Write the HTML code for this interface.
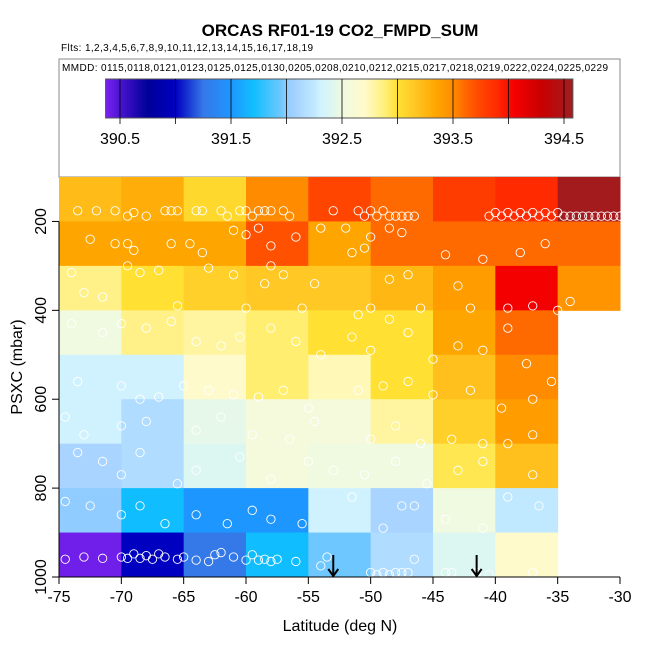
<!DOCTYPE html>
<html><head><meta charset="utf-8"><style>
body{margin:0;background:#fff}
svg{display:block;font-family:"Liberation Sans",Arial,sans-serif}
</style></head><body>
<svg id="chart" width="650" height="650" viewBox="0 0 650 650" xmlns="http://www.w3.org/2000/svg">
<text x="340" y="36" text-anchor="middle" font-size="17" font-weight="bold">ORCAS RF01-19 CO2_FMPD_SUM</text>
<text x="61" y="51" font-size="10" textLength="252">Flts: 1,2,3,4,5,6,7,8,9,10,11,12,13,14,15,16,17,18,19</text>
<rect x="59" y="59" width="561" height="118" fill="none" stroke="#888" stroke-width="1"/>
<text x="62" y="71" font-size="10" textLength="546">MMDD: 0115,0118,0121,0123,0125,0125,0130,0205,0208,0210,0212,0215,0217,0218,0219,0222,0224,0225,0229</text>
<defs><linearGradient id="cbgrad" x1="0" x2="1" y1="0" y2="0"></linearGradient></defs>
<g id="colorbar"></g>
<g id="cells"></g>
<g id="points"></g>
<g id="axes"></g>
<text x="340" y="631" text-anchor="middle" font-size="16">Latitude (deg N)</text>
<text transform="translate(22,367) rotate(-90)" text-anchor="middle" font-size="16">PSXC (mbar)</text>
</svg>
<script>
const latEdges = [-75,-70,-65,-60,-55,-50,-45,-40,-35,-30];
const presEdges = [100,200,300,400,500,600,700,800,900,1000];
const row100 = [393.22,393.3,393.05,393.5,393.75,393.6,393.8,393.9,394.55];
const row200 = [393.35,393.35,393.35,393.7,393.35,393.6,393.6,393.6,393.6];
const row300 = [392.85,393.0,393.1,393.15,393.15,393.25,393.4,394.05,393.45];
const row400 = [392.5,392.85,392.8,392.9,393.0,393.0,393.35,393.6,null];
const row500 = [392.3,392.3,392.7,392.9,392.75,393.0,393.2,393.5,null];
const row600 = [392.3,392.15,392.45,392.55,392.55,392.8,393.1,393.4,null];
const row700 = [392.1,392.15,392.4,392.55,392.5,392.5,392.95,393.2,null];
const row800 = [392.0,391.7,391.5,391.5,392.3,392.1,392.5,392.25,null];
const row900 = [390.4,391.0,391.25,391.7,391.95,392.15,392.4,392.7,null];
const gridValues = [row100,row200,row300,row400,row500,row600,row700,row800,row900];
const xTicks = [-75,-70,-65,-60,-55,-50,-45,-40,-35,-30];
const yTicks = [200,400,600,800,1000];
const cbTicks = [390.5,391.5,392.5,393.5,394.5];
const cbMinorTicks = [390.5,391,391.5,392,392.5,393,393.5,394,394.5];
const arrowLats = [-53,-41.5];
const ptLat = [-73.5,-72,-70.5,-69.5,-69,-68,-66.5,-66,-65.5,-64,-63.5,-62,-61.5,-60.5,-60,-59.5,-59,-58.5,-58,-57,-56.5,-53,-51,-50.5,-50,-49.5,-49,-48.5,-48,-47.5,-47,-46.5,-40.5,-40,-39.5,-39,-38.5,-38,-37.5,-37,-36.5,-36,-35.5,-35,-34.5,-34,-33.5,-33,-32.5,-32,-31.5,-31,-30.5,-30,
-72.5,-70.5,-69.5,-69,-66,-64.5,-63.5,-61,-60,-59,-58,-56,-54,-52,-51.5,-50.5,-50,-48.5,-47.5,-44,-41,-38,-36,
-74,-73,-71.5,-69.5,-68.5,-67,-65.5,-63,-61,-60,-58.5,-58,-57,-55.5,-54.5,-51,-50,-48.5,-47,-46,-43,-42,-39,-37,-35,-34,
-74,-71.5,-70,-68,-66,-64,-62,-60.5,-58,-56,-54,-51.5,-50,-48.5,-47,-45,-43,-41,-39,-37.5,
-73.5,-70,-68.5,-67,-65,-63,-61,-59,-57,-55,-51,-49,-47,-45,-42,-39.5,-37,-35.5,
-74.5,-73,-70,-68,-64,-62,-59.5,-56.5,-54.5,-50,-48,-46,-43.5,-41,-39,-37,
-73.5,-71.5,-70,-68.5,-65.5,-64,-60.5,-58,-55,-53,-50.5,-48,-45.5,-43,-41,-37,
-74.5,-72.5,-70,-68.5,-66.5,-64,-61.5,-59.5,-58,-55.5,-51.5,-49,-47.5,-46.5,-44,-41,-39,-36.5,
-74.5,-73,-71.5,-70,-69.5,-69,-68.5,-68,-67.5,-67,-66.5,-65.5,-65,-64,-63,-62.5,-62,-61,-60,-59.5,-59,-58.5,-58,-57.5,-56,-54,-53.5,-50,-49.5,-49,-48.5,-48,-47.5,-47,-46.5,-44,-43.5,-41.5,-40.5,-37];
const ptPres = [176,176,176,188,180,188,176,176,176,176,176,176,188,176,176,188,176,176,176,176,188,176,176,188,176,188,176,188,188,188,188,188,188,180,188,180,188,180,188,180,188,180,188,180,188,188,188,188,188,188,188,188,188,188,
240,250,250,265,250,250,270,220,230,215,255,235,215,215,270,260,235,215,225,275,285,270,250,
315,360,370,300,315,310,390,305,320,395,340,300,320,395,340,410,395,330,320,395,345,395,395,390,400,380,
430,450,430,440,425,470,480,460,440,470,500,460,490,420,450,510,480,490,440,520,
560,570,600,595,570,580,590,595,580,620,580,570,560,590,580,620,600,560,
640,680,660,650,670,640,680,690,650,690,660,700,690,700,700,680,
720,740,770,720,790,760,730,780,740,760,770,740,790,760,740,770,
830,840,860,840,880,860,880,850,870,880,820,890,840,840,870,890,820,840,
960,955,958,955,958,948,958,952,960,948,955,960,955,962,965,950,945,955,962,950,962,960,965,960,965,975,955,990,995,990,995,990,990,990,960,990,990,990,995,990];

const x = v => 59 + (v + 75) * (561 / 45);
const y = p => 177 + (p - 100) * (400 / 900);
const cbx = v => 120 + (v - 390.5) * 111.0;

const stops = [[390.37,'#7B22F2'],[390.5,'#4A14D0'],[390.75,'#000099'],[391.0,'#0000C0'],[391.25,'#3578E8'],[391.5,'#1E96FF'],[391.7,'#10BEFF'],[391.95,'#6EC8FF'],[392.0,'#90CCFF'],[392.1,'#A8D4FF'],[392.15,'#B0DCFF'],[392.25,'#C0E8FF'],[392.3,'#D0F2FF'],[392.4,'#DCF6F2'],[392.5,'#F0FAE0'],[392.7,'#FFFACC'],[392.8,'#FFF5A0'],[392.9,'#FFEE70'],[393.0,'#FFE033'],[393.15,'#FFC825'],[393.35,'#FFA500'],[393.5,'#FF8C00'],[393.6,'#FF6A00'],[393.75,'#FF4500'],[393.9,'#FF2A00'],[394.05,'#F50000'],[394.3,'#C80000'],[394.58,'#A01E22']];
function hex(h){return [1,3,5].map(i=>parseInt(h.substr(i,2),16));}
function color(v){
  if(v<=stops[0][0])return stops[0][1];
  for(let i=1;i<stops.length;i++){
    if(v<=stops[i][0]){const a=hex(stops[i-1][1]),b=hex(stops[i][1]);const t=(v-stops[i-1][0])/(stops[i][0]-stops[i-1][0]);
      return 'rgb('+a.map((c,k)=>Math.round(c+(b[k]-c)*t)).join(',')+')';}
  }
  return stops[stops.length-1][1];
}
const NS='http://www.w3.org/2000/svg';
function mk(tag,attrs,parent){const e=document.createElementNS(NS,tag);for(const k in attrs)e.setAttribute(k,attrs[k]);parent.appendChild(e);return e;}

const grad=document.getElementById('cbgrad');
stops.forEach(s=>{mk('stop',{offset:((s[0]-390.37)/(394.58-390.37)),'stop-color':s[1]},grad);});
const cb=document.getElementById('colorbar');
const cbr=mk('rect',{x:cbx(390.37),y:79,width:cbx(394.58)-cbx(390.37),height:39,fill:'url(#cbgrad)',stroke:'#555','stroke-width':1},cb);


cbMinorTicks.forEach(v=>{
  const l=mk('line',{x1:cbx(v),x2:cbx(v),y1:79,y2:124,stroke:'#000','stroke-width':0.8},cb);
  
  
});
cbTicks.forEach(v=>{
  const t=mk('text',{x:cbx(v),y:144,'text-anchor':'middle','font-size':16},cb);
  t.textContent=v.toFixed(1);
  
  
});

const cells=document.getElementById('cells');
gridValues.forEach((row,r)=>row.forEach((v,c)=>{
  if(v===null)return;
  const x0=x(latEdges[c]),x1=x(latEdges[c+1]),y0=y(presEdges[r]);
  const y1=r+1<presEdges.length?y(presEdges[r+1]):577;
  const rc=mk('rect',{x:x0,y:y0,width:x1-x0+0.5,height:y1-y0+0.5,fill:color(v)},cells);
  
  
}));

const pts=document.getElementById('points');
ptLat.forEach((la,i)=>{
  const c=mk('circle',{cx:x(la),cy:y(ptPres[i]),r:4.2,fill:'none',stroke:'#fff','stroke-width':0.9},pts);
  
  
});

const ax=document.getElementById('axes');
mk('line',{x1:x(-75),x2:x(-30),y1:577,y2:577,stroke:'#000','stroke-width':1},ax);
mk('line',{x1:59,x2:59,y1:y(200),y2:y(1000),stroke:'#000','stroke-width':1},ax);
xTicks.forEach(v=>{
  const l=mk('line',{x1:x(v),x2:x(v),y1:577,y2:584,stroke:'#000'},ax);
  
  
  const t=mk('text',{x:x(v),y:602,'text-anchor':'middle','font-size':16},ax);
  t.textContent=v;
  
  
});
yTicks.forEach(v=>{
  const l=mk('line',{x1:52,x2:59,y1:y(v),y2:y(v),stroke:'#000'},ax);
  
  
  const t=mk('text',{transform:'translate(46,'+y(v)+') rotate(-90)','text-anchor':'middle','font-size':16},ax);
  t.textContent=v;
  
  
});
arrowLats.forEach(la=>{
  const g=mk('g',{stroke:'#000','stroke-width':2,fill:'none'},ax);
  
  
  mk('line',{x1:x(la),x2:x(la),y1:555,y2:576},g);
  mk('polyline',{points:(x(la)-5)+',569 '+x(la)+',576 '+(x(la)+5)+',569'},g);
});
</script>
</body></html>
